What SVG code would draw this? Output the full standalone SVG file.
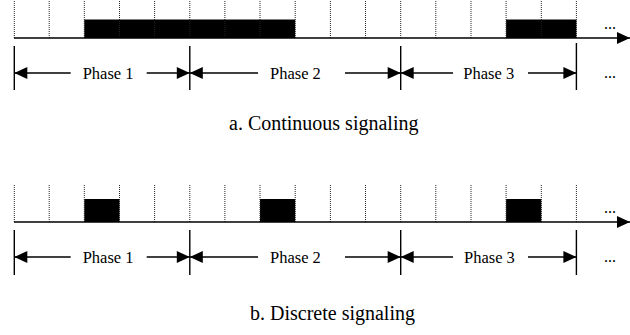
<svg xmlns="http://www.w3.org/2000/svg" width="630" height="335" viewBox="0 0 630 335">
<defs>
<style>
.dot{stroke:#222;stroke-width:1;stroke-dasharray:1 1;fill:none}
.ax{stroke:#000;stroke-width:1.4;fill:none}
.pl{stroke:#000;stroke-width:1.4;fill:none}
.ar{stroke:#000;stroke-width:1.3;fill:none}
.blk{fill:#000}
.lbl{font-family:"Liberation Serif","Times New Roman",serif;font-size:16.5px;fill:#000}
.cap{font-family:"Liberation Serif","Times New Roman",serif;font-size:20px;fill:#000}
.ell{font-family:"Liberation Serif","Times New Roman",serif;font-size:16px;fill:#000}
</style>
<marker id="ah" markerUnits="userSpaceOnUse" markerWidth="13" markerHeight="12" refX="13" refY="6" orient="auto" overflow="visible">
<path d="M0,0 L13,6 L0,12 z" fill="#000"/>
</marker>
</defs>
<rect width="630" height="335" fill="#fff"/>

<g id="continuous">
<g id="cont-slots">
<rect class="blk" x="84.3" y="19.5" width="210.9" height="18.5"/>
<rect class="blk" x="506.1" y="19.5" width="70.3" height="18.5"/>
<path class="dot" d="M14.3,1V38M49.2,1V38M84.3,1V38M119.5,1V38M154.6,1V38M189.8,1V38M224.9,1V38M260,1V38M295.2,1V38M330.4,1V38M365.5,1V38M400.7,1V38M435.8,1V38M471,1V38M506.1,1V38M541.3,1V38M576.4,1V38"/>
<text class="ell" x="604" y="29">...</text>
</g>
<g id="cont-connectors">
<line class="ax" x1="14" y1="38" x2="630" y2="38" marker-end="url(#ah)"/>
<path class="pl" d="M14.3,46V90M189.8,46V90M400.7,46V90M576.4,43V90"/>
<line class="ar" x1="70.7" y1="73" x2="14.3" y2="73" marker-end="url(#ah)"/>
<line class="ar" x1="146.7" y1="73" x2="189.8" y2="73" marker-end="url(#ah)"/>
<line class="ar" x1="258" y1="73" x2="189.8" y2="73" marker-end="url(#ah)"/>
<line class="ar" x1="345" y1="73" x2="400.7" y2="73" marker-end="url(#ah)"/>
<line class="ar" x1="453" y1="73" x2="400.7" y2="73" marker-end="url(#ah)"/>
<line class="ar" x1="528" y1="73" x2="576.4" y2="73" marker-end="url(#ah)"/>
</g>
<g id="cont-phase1"><text class="lbl" x="82.7" y="78.5">Phase 1</text></g>
<g id="cont-phase2"><text class="lbl" x="270" y="78.5">Phase 2</text></g>
<g id="cont-phase3"><text class="lbl" x="463.3" y="78.5">Phase 3</text></g>
<text class="ell" x="604" y="78">...</text>
<text class="cap" x="229" y="130">a. Continuous signaling</text>
</g>

<g id="discrete">
<g id="disc-slots">
<rect class="blk" x="84.3" y="199" width="35.2" height="23"/>
<rect class="blk" x="260" y="199" width="35.2" height="23"/>
<rect class="blk" x="506.1" y="199" width="35.2" height="23"/>
<path class="dot" d="M14.3,185V222M49.2,185V222M84.3,185V222M119.5,185V222M154.6,185V222M189.8,185V222M224.9,185V222M260,185V222M295.2,185V222M330.4,185V222M365.5,185V222M400.7,185V222M435.8,185V222M471,185V222M506.1,185V222M541.3,185V222M576.4,185V222"/>
<text class="ell" x="604" y="213">...</text>
</g>
<g id="disc-connectors">
<line class="ax" x1="14" y1="222" x2="630" y2="222" marker-end="url(#ah)"/>
<path class="pl" d="M14.3,230V275M189.8,230V275M400.7,230V275M576.4,230V275"/>
<line class="ar" x1="70.7" y1="257" x2="14.3" y2="257" marker-end="url(#ah)"/>
<line class="ar" x1="146.7" y1="257" x2="189.8" y2="257" marker-end="url(#ah)"/>
<line class="ar" x1="258" y1="257" x2="189.8" y2="257" marker-end="url(#ah)"/>
<line class="ar" x1="345" y1="257" x2="400.7" y2="257" marker-end="url(#ah)"/>
<line class="ar" x1="453" y1="257" x2="400.7" y2="257" marker-end="url(#ah)"/>
<line class="ar" x1="528" y1="257" x2="576.4" y2="257" marker-end="url(#ah)"/>
</g>
<g id="disc-phase1"><text class="lbl" x="82.7" y="262.5">Phase 1</text></g>
<g id="disc-phase2"><text class="lbl" x="270" y="262.5">Phase 2</text></g>
<g id="disc-phase3"><text class="lbl" x="464" y="262.5">Phase 3</text></g>
<text class="ell" x="604" y="262">...</text>
<text class="cap" x="250" y="320">b. Discrete signaling</text>
</g>
</svg>
